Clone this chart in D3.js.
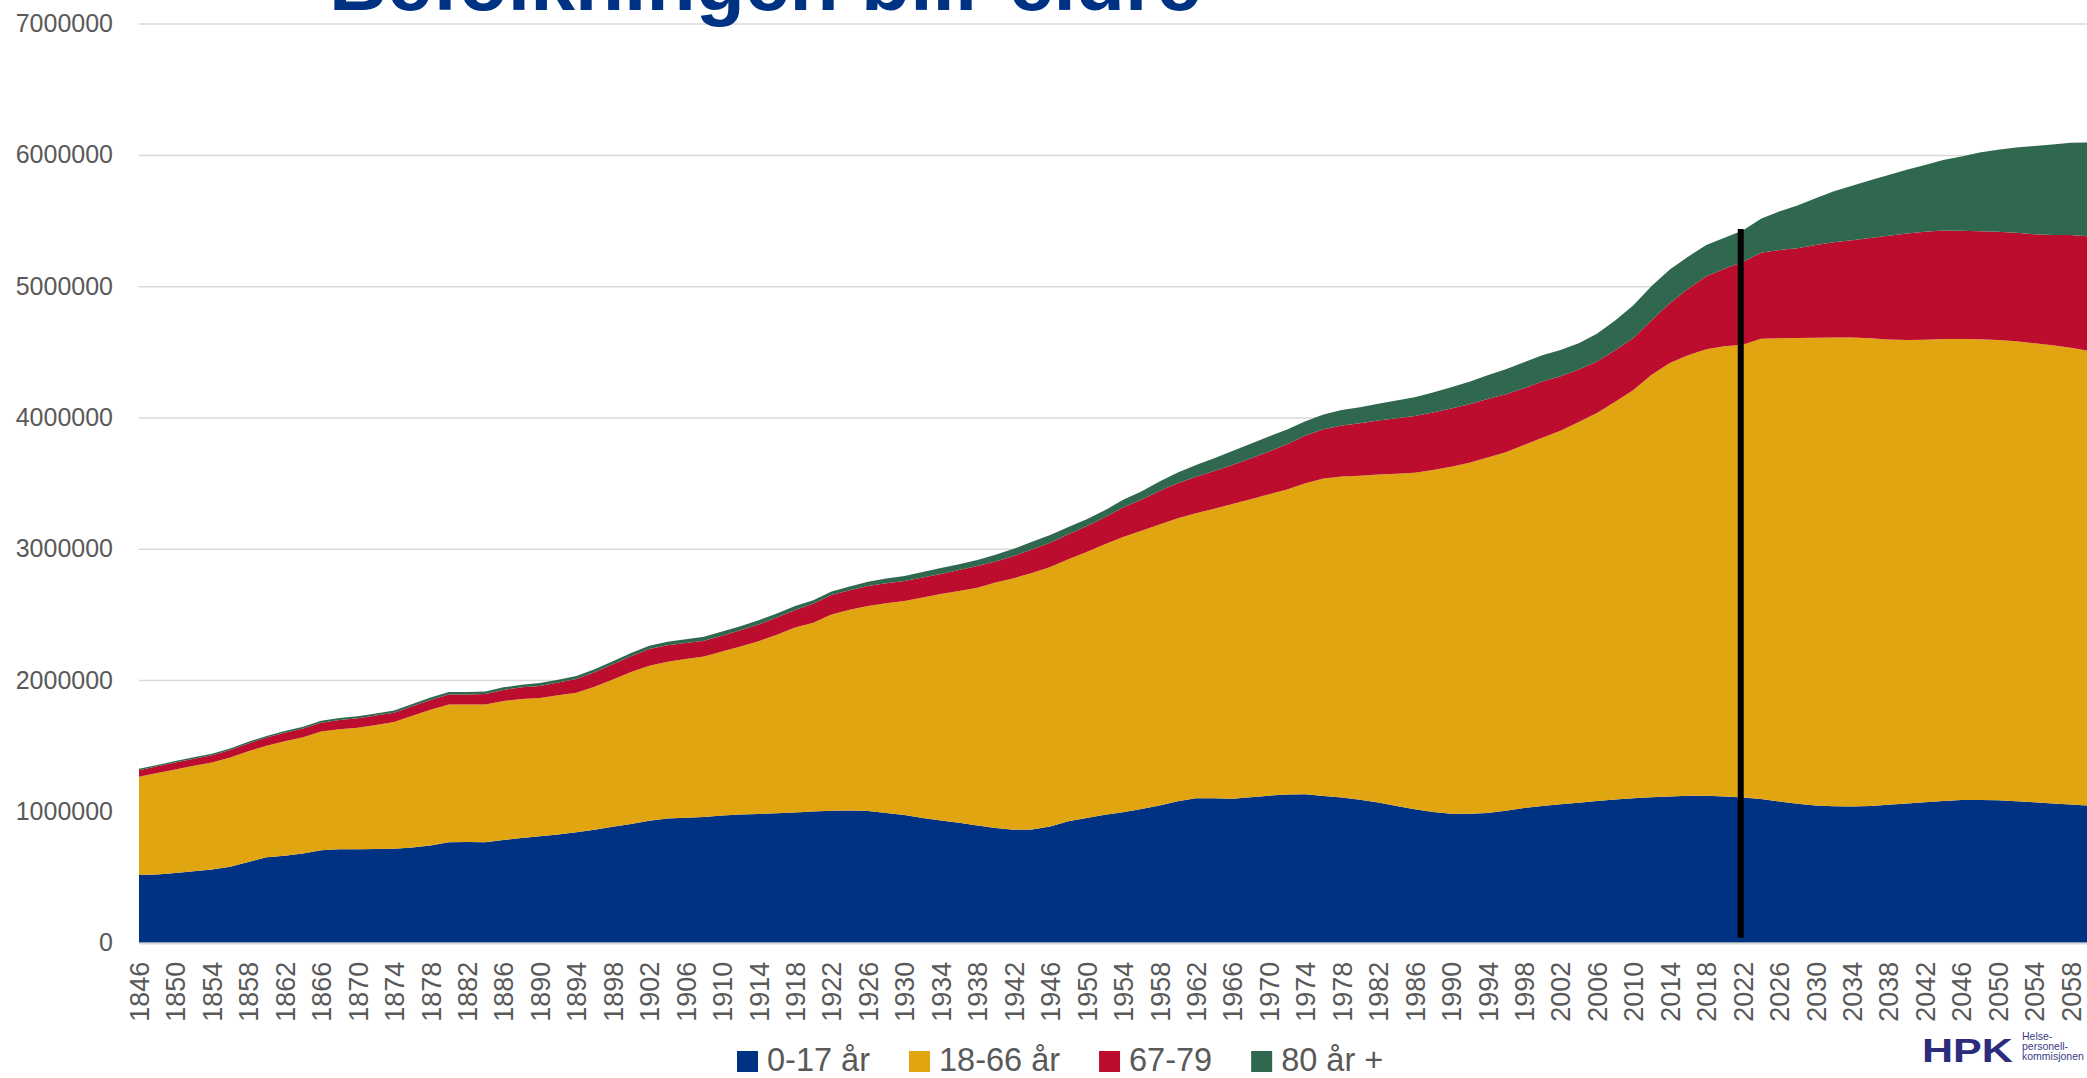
<!DOCTYPE html>
<html><head><meta charset="utf-8">
<script src="https://cdn.jsdelivr.net/npm/d3@7"></script>
<style>
html,body{margin:0;padding:0;background:#fff;overflow:hidden}
svg{display:block}
</style></head><body>
<svg id="chart" width="2087" height="1078"></svg>
<script>
// ---------------- DATA ----------------
const years = [1846,1848,1850,1852,1854,1856,1858,1860,1862,1864,
1866,1868,1870,1872,1874,1876,1878,1880,1882,1884,
1886,1888,1890,1892,1894,1896,1898,1900,1902,1904,
1906,1908,1910,1912,1914,1916,1918,1920,1922,1924,
1926,1928,1930,1932,1934,1936,1938,1940,1942,1944,
1946,1948,1950,1952,1954,1956,1958,1960,1962,1964,
1966,1968,1970,1972,1974,1976,1978,1980,1982,1984,
1986,1988,1990,1992,1994,1996,1998,2000,2002,2004,
2006,2008,2010,2012,2014,2016,2018,2020,2022,2024,
2026,2028,2030,2032,2034,2036,2038,2040,2042,2044,
2046,2048,2050,2052,2054,2056,2058,2060];

const age0_17 = [516000,520000,530000,545000,557000,579000,615000,650000,663000,680000,
705000,711000,711000,713000,716000,725000,740000,765000,766000,765000,
782000,798000,810000,825000,841000,860000,883000,904000,929000,945000,
952000,958000,968000,976000,981000,985000,992000,1000000,1005000,1006000,
1003000,988000,972000,950000,930000,913000,893000,873000,861000,862000,
885000,925000,950000,975000,993000,1018000,1045000,1078000,1101000,1100000,
1096000,1108000,1120000,1128000,1130000,1118000,1105000,1088000,1068000,1042000,
1016000,995000,982000,982000,988000,1005000,1025000,1042000,1055000,1066000,
1080000,1090000,1100000,1108000,1114000,1119000,1120000,1114000,1105000,1095000,
1075000,1058000,1045000,1040000,1037000,1042000,1050000,1060000,1070000,1080000,
1086000,1087000,1085000,1078000,1069000,1060000,1052000,1044000];

const age18_66 = [748000,773000,790000,802000,815000,831000,843000,850000,872000,885000,
903000,915000,927000,945000,964000,1003000,1035000,1050000,1048000,1050000,
1058000,1058000,1054000,1059000,1063000,1090000,1122000,1158000,1181000,1195000,
1208000,1222000,1250000,1279000,1315000,1360000,1408000,1437000,1495000,1529000,
1562000,1597000,1631000,1680000,1725000,1765000,1811000,1871000,1915000,1953000,
1977000,1995000,2025000,2060000,2097000,2120000,2140000,2154000,2169000,2205000,
2245000,2270000,2295000,2324000,2370000,2417000,2445000,2469000,2497000,2530000,
2564000,2605000,2643000,2673000,2707000,2730000,2765000,2803000,2845000,2899000,
2955000,3030000,3110000,3217000,3301000,3356000,3400000,3429000,3449000,3505000,
3529000,3548000,3563000,3569000,3573000,3561000,3545000,3530000,3522000,3518000,
3512000,3509000,3505000,3502000,3497000,3490000,3480000,3464000];

const age67_79 = [50000,51000,52000,54000,56000,58000,60000,62000,64000,66000,
68000,70000,71000,72000,72000,73000,74000,76000,77000,80000,
85000,89000,92000,98000,105000,110000,115000,120000,127000,125000,
122000,119000,120000,124000,128000,131000,134000,145000,148000,150000,
152000,153000,152000,152000,154000,160000,165000,160000,170000,180000,
185000,190000,197000,205000,225000,235000,255000,268000,278000,287000,
297000,310000,326000,345000,362000,375000,390000,400000,412000,423000,
432000,438000,443000,446000,445000,442000,432000,430000,415000,400000,
392000,393000,395000,415000,455000,505000,555000,590000,630000,655000,
672000,683000,705000,725000,740000,765000,790000,812000,822000,826000,
825000,822000,825000,828000,830000,840000,857000,872000];

const age80plus = [10000,10000,11000,11000,12000,12000,13000,13000,14000,14000,
15000,15000,16000,16000,17000,17000,18000,18000,19000,19000,
20000,20000,21000,21000,22000,23000,24000,25000,25000,27000,
30000,32000,32000,32000,32000,31000,30000,27000,26000,28000,
32000,36000,38000,41000,44000,45000,46000,50000,54000,58000,
58000,56000,54000,53000,58000,64000,73000,82000,90000,98000,
106000,113000,115000,112000,110000,113000,117000,121000,128000,135000,
142000,152000,162000,172000,181000,190000,198000,200000,200000,200000,
210000,225000,250000,262000,258000,245000,238000,236000,240000,258000,
292000,325000,357000,390000,415000,438000,462000,485000,510000,538000,
565000,600000,625000,648000,672000,690000,703000,714000];

const seriesNames = ["0-17 år", "18-66 år", "67-79", "80 år +"];
const seriesColors = ["#003283", "#E1A512", "#BD0D2F", "#2F684E"];
const yTicks = [0,1000000,2000000,3000000,4000000,5000000,6000000,7000000];
const xTickLabels = [1846,1850,1854,1858,1862,1866,1870,1874,1878,1882,1886,1890,1894,1898,
1902,1906,1910,1914,1918,1922,1926,1930,1934,1938,1942,1946,1950,1954,1958,1962,1966,1970,
1974,1978,1982,1986,1990,1994,1998,2002,2006,2010,2014,2018,2022,2026,2030,2034,2038,2042,
2046,2050,2054,2058];
const titleText = "Befolkningen blir eldre";
const markerYear = 2022;

// ---------------- CHART ----------------
const W = 2087, H = 1078;
const plotLeft = 139, plotRight = 2089, plotBottom = 942.7, plotTop = 23.6;
const FONT = "'Liberation Sans', Arial, sans-serif";
const svg = d3.select("#chart");

const x = d3.scaleLinear().domain([1846, 2060]).range([plotLeft, plotRight]);
const y = d3.scaleLinear().domain([0, 7000000]).range([plotBottom, plotTop]);

// gridlines + y labels
const yAxis = svg.append("g").attr("transform", `translate(${plotLeft},0)`)
  .call(d3.axisLeft(y).tickValues(yTicks).tickFormat(d3.format("d"))
        .tickSize(-(plotRight - plotLeft)).tickPadding(26));
yAxis.select(".domain").remove();
yAxis.selectAll(".tick line").attr("stroke", "#d9d9d9").attr("stroke-width", 1.5);
yAxis.selectAll(".tick text").attr("fill", "#595959").style("font-family", FONT).style("font-size", "25px");

// stacked areas
const keys = ["a", "b", "c", "d"];
const rows = years.map((yr, i) => ({year: yr, a: age0_17[i], b: age18_66[i], c: age67_79[i], d: age80plus[i]}));
const stacked = d3.stack().keys(keys)(rows);
const area = d3.area().x(d => x(d.data.year)).y0(d => y(d[0])).y1(d => y(d[1])).curve(d3.curveLinear);
svg.append("g").selectAll("path").data(stacked).join("path")
  .attr("d", area).attr("fill", (d, i) => seriesColors[i]);

// baseline
svg.append("line").attr("x1", plotLeft).attr("x2", W).attr("y1", y(0) + 0.8).attr("y2", y(0) + 0.8)
  .attr("stroke", "#d9d9d9").attr("stroke-width", 2);

// x axis labels
const xAxis = svg.append("g").attr("transform", `translate(0,${y(0)})`)
  .call(d3.axisBottom(x).tickValues(xTickLabels).tickFormat(d3.format("d")).tickSize(0));
xAxis.select(".domain").remove();
xAxis.selectAll(".tick text")
  .attr("transform", "rotate(-90)").attr("text-anchor", "end")
  .attr("x", -19).attr("y", 0).attr("dy", "0.35em")
  .attr("fill", "#595959").style("font-family", FONT).style("font-size", "27px");

// marker line at 2022
const mi = years.indexOf(markerYear);
const markerTotal = stacked[3][mi][1];
svg.append("line").attr("x1", x(markerYear) - 2).attr("x2", x(markerYear) - 2)
  .attr("y1", y(markerTotal) - 1.5).attr("y2", y(0) - 5)
  .attr("stroke", "#000").attr("stroke-width", 6);

// title (cut off at the top, as in the reference)
svg.append("text").attr("x", 329).attr("y", 10).text(titleText)
  .attr("fill", "#003283").style("font-family", FONT).style("font-weight", "bold").style("font-size", "80px")
  .attr("textLength", 872).attr("lengthAdjust", "spacingAndGlyphs");

// legend
const legend = svg.append("g");
let lx = 737;
seriesNames.forEach((name, i) => {
  legend.append("rect").attr("x", lx).attr("y", 1051).attr("width", 21).attr("height", 21).attr("fill", seriesColors[i]);
  const t = legend.append("text").attr("x", lx + 30).attr("y", 1071).text(name)
    .attr("fill", "#595959").style("font-family", FONT).style("font-size", "32.5px");
  lx += 30 + t.node().getComputedTextLength() + 39;
});

// HPK logo (text)
svg.append("text").attr("x", 1922).attr("y", 1062).text("HPK")
  .attr("fill", "#2b2c7c").style("font-family", FONT).style("font-weight", "bold").style("font-size", "33px")
  .attr("textLength", 91).attr("lengthAdjust", "spacingAndGlyphs");
["Helse-", "personell-", "kommisjonen"].forEach((s, i) => {
  svg.append("text").attr("x", 2022).attr("y", 1040 + i * 10).text(s)
    .attr("fill", "#3a3b86").style("font-family", FONT).style("font-size", "10.5px");
});
</script>
</body></html>
